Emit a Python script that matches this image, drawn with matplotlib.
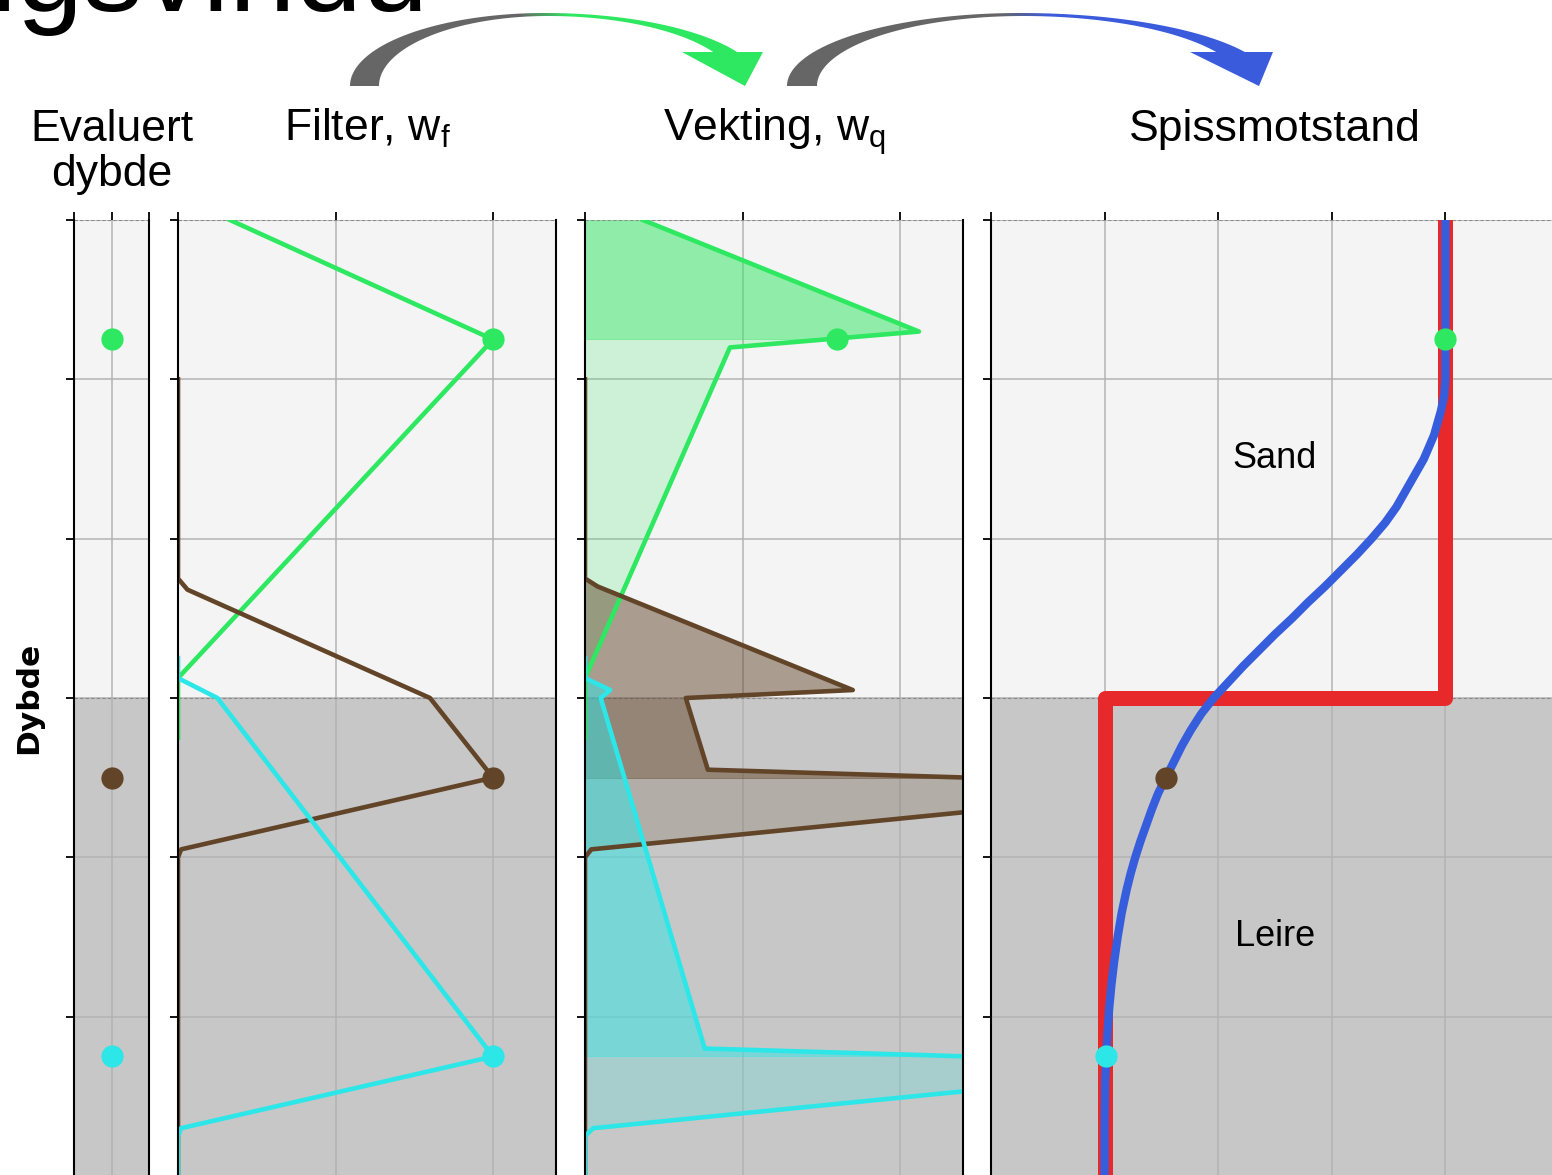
import numpy as np
import matplotlib.pyplot as plt
from matplotlib.patches import Polygon, Rectangle
from matplotlib.colors import to_rgb

plt.rcParams['font.family'] = ['Liberation Sans', 'DejaVu Sans']
plt.rcParams['mathtext.fontset'] = 'custom'
plt.rcParams['mathtext.rm'] = 'Liberation Sans'
plt.rcParams['mathtext.it'] = 'Liberation Sans:italic'

# --- data ---
lag_grense = 3.0          # sand over leire
dybde_max = 6.0
eval_dybde = [0.75, 3.5, 5.25]
farger = ['#2de860', '#624529', '#2de6e8']

# filter w_f for hvert evaluert punkt
wf1_z = [0.0, 0.75, 2.875, 3.25]
wf1 = [0.165, 1.0, 0.0, 0.0]
wf2_z = [1.0, 2.25, 2.32, 3.0, 3.5, 3.95, 4.0, 6.0]
wf2 = [0.0, 0.0, 0.03, 0.80, 1.0, 0.01, 0.0, 0.0]
wf3_z = [2.75, 2.875, 3.0, 5.25, 5.70, 5.75, 6.0]
wf3 = [0.0, 0.0, 0.125, 1.0, 0.01, 0.0, 0.0]
wf_ved_eval = [1.0, 1.0, 1.0]

# vekting w_q
wq1_z = [0.0, 0.70, 0.80, 2.875, 3.25]
wq1 = [0.184, 1.06, 0.46, 0.0, 0.0]
wq2_z = [1.0, 2.25, 2.30, 2.95, 3.0, 3.45, 3.55, 3.95, 4.0, 6.0]
wq2 = [0.0, 0.0, 0.04, 0.85, 0.32, 0.39, 2.05, 0.02, 0.0, 0.0]
wq3_z = [2.75, 2.875, 2.95, 3.0, 5.20, 5.30, 5.70, 5.75, 6.0]
wq3 = [0.0, 0.0, 0.08, 0.05, 0.38, 2.06, 0.026, 0.0, 0.0]
wq_ved_eval = [0.80, 1.22, 1.22]

# spissmotstand: lagdelt og glattet
qc_lag_z = [0.0, 3.0, 3.0, 6.0]
qc_lag = [4.0, 4.0, 1.0, 1.0]
qc_glatt_z = [0.0, 1.0, 1.1, 1.2, 1.35, 1.5, 1.65, 1.8, 1.9, 2.0, 2.1, 2.2, 2.3, 2.4,
              2.5, 2.6, 2.7, 2.8, 2.9, 3.0, 3.1, 3.2, 3.3, 3.4, 3.5, 3.6, 3.7, 3.8,
              3.9, 4.0, 4.1, 4.2, 4.35, 4.5, 4.65, 4.8, 4.95, 5.1, 5.4, 5.7, 6.0]
qc_glatt = [4.0, 4.0, 3.99, 3.96, 3.90, 3.81, 3.69, 3.57, 3.47, 3.35, 3.22, 3.08, 2.94, 2.79,
            2.65, 2.50, 2.36, 2.22, 2.09, 1.96, 1.85, 1.76, 1.68, 1.61, 1.54, 1.47, 1.415, 1.365,
            1.315, 1.27, 1.23, 1.195, 1.15, 1.115, 1.085, 1.06, 1.04, 1.025, 1.005, 1.0, 1.0]
qc_ved_eval = [4.0, 1.54, 1.01]

W, H = 1552, 1175
fig = plt.figure(figsize=(W / 100, H / 100), dpi=100)


def fx(px):
    return px / W


def fy(py):
    return 1 - py / H


def akse(x0, x1, y0=220, y1=1176):
    return fig.add_axes([fx(x0), fy(y1), (x1 - x0) / W, (y1 - y0) / H])


def stil(ax, xlim, xticks):
    ax.set_xlim(*xlim)
    ax.set_ylim(dybde_max, 0)
    ax.set_xticks(xticks)
    ax.set_yticks(np.arange(0, 7))
    ax.xaxis.tick_top()
    ax.tick_params(direction='out', length=5.8, width=1.3, labeltop=False,
                   labelleft=False, labelbottom=False)
    ax.grid(True, color='#b3b3b3', lw=1.1)
    ax.set_axisbelow(True)
    ax.axhspan(0, lag_grense, color='#f4f4f4', lw=0, zorder=0)
    ax.axhspan(lag_grense, dybde_max + 1, color='#c7c7c7', lw=0, zorder=0)
    for z in (0, lag_grense):
        ax.axhline(z, color='#8a8a8a', lw=0.8, ls=(0, (3, 2)), zorder=0.6)
    ax.spines['top'].set_visible(False)
    ax.spines['bottom'].set_visible(False)
    for s in ('left', 'right'):
        ax.spines[s].set_linewidth(1.5)
        ax.spines[s].set_zorder(6)


ax1 = akse(74, 149)
ax2 = akse(178, 556)
ax3 = akse(585, 963)
ax4 = akse(991, 1559)
stil(ax1, (-1, 1), [-1, 0, 1])
stil(ax2, (0, 1.2), [0, 0.5, 1.0])
stil(ax3, (0, 1.2), [0, 0.5, 1.0])
stil(ax4, (0, 5), [0, 1, 2, 3, 4])

# evaluerte dybder
for z, c in zip(eval_dybde, farger):
    ax1.plot(0, z, 'o', ms=16, mew=0, color=c, zorder=5)

# filter
filter_serier = [(wf1_z, wf1), (wf2_z, wf2), (wf3_z, wf3)]
for (z, w), c in zip(filter_serier, farger):
    ax2.plot(w, z, color=c, lw=3.3, zorder=3)
for z, w, c in zip(eval_dybde, wf_ved_eval, farger):
    ax2.plot(w, z, 'o', ms=16, mew=0, color=c, zorder=5)

# vekting: sterkere fyll over evaluert dybde, svakere under
x_min, x_max = ax3.get_xlim()
vekt_serier = [(wq1_z, wq1), (wq2_z, wq2), (wq3_z, wq3)]
for (z, w), ze, c in zip(vekt_serier, eval_dybde, farger):
    for topp, bunn, a in [(-1, ze, 0.5), (ze, dybde_max + 1, 0.2)]:
        f = ax3.fill_betweenx(z, 0, w, color=c, alpha=a, lw=0, zorder=2)
        f.set_clip_path(Rectangle((x_min, topp), x_max - x_min, bunn - topp,
                                  transform=ax3.transData))
for (z, w), c in zip(vekt_serier, farger):
    ax3.plot(w, z, color=c, lw=3.3, zorder=3)
for z, w, c in zip(eval_dybde, wq_ved_eval, farger):
    if w <= x_max:
        ax3.plot(w, z, 'o', ms=16, mew=0, color=c, zorder=5)

# spissmotstand
ax4.plot(qc_lag, qc_lag_z, color='#e8292b', lw=10.8, solid_joinstyle='round', zorder=3)
ax4.plot(qc_glatt, qc_glatt_z, color='#365ddc', lw=6, solid_joinstyle='round', zorder=4)
for z, q, c in zip(eval_dybde, qc_ved_eval, farger):
    ax4.plot(q, z, 'o', ms=16, mew=0, color=c, zorder=5)
ax4.text(2.5, 1.5, 'Sand', fontsize=26, ha='center', va='center')
ax4.text(2.5, 4.5, 'Leire', fontsize=26, ha='center', va='center')

# titler
fig.text(fx(428), fy(11), 'Midlingsvindu', fontsize=86, ha='right', va='baseline')
fig.text(fx(112), fy(141), 'Evaluert', fontsize=32, ha='center', va='baseline')
fig.text(fx(112), fy(186), 'dybde', fontsize=32, ha='center', va='baseline')
fig.text(fx(367), fy(141), r'Filter, w$_\mathrm{f}$', fontsize=32, ha='center', va='baseline')
fig.text(fx(774), fy(141), r'Vekting, w$_\mathrm{q}$', fontsize=32, ha='center', va='baseline')
fig.text(fx(1275), fy(141), 'Spissmotstand', fontsize=32, ha='center', va='baseline')
fig.text(fx(29), fy(698), 'Dybde', rotation=90, ha='center', va='center',
         fontsize=22.5, fontweight='bold', family='DejaVu Sans')

# buede piler med fargeovergang, tegnet i pikselkoordinater
pil_ax = fig.add_axes([0, 0, 1, 1], zorder=10)
pil_ax.axis('off')
pil_ax.patch.set_alpha(0)


def bue(cx, cy, rx, ry, t0, t1, n=90):
    t = np.radians(np.linspace(t0, t1, n))
    return np.column_stack([cx + rx * np.cos(t), cy - ry * np.sin(t)])


def bue_pil(ax, cx_ytre, r_ytre, cx_indre, r_indre, hode, farge, g0, g1):
    ende_y = np.degrees(np.arcsin(34 / 73))
    ende_i = np.degrees(np.arcsin(34 / 70))
    ytre = np.vstack([bue(cx_ytre, 86, r_ytre[0], 73, 180, 90),
                      bue(cx_ytre, 86, r_ytre[1], 73, 90, ende_y)])
    indre = np.vstack([bue(cx_indre, 86, r_indre[1], 70, ende_i, 90),
                       bue(cx_indre, 86, r_indre[0], 70, 90, 180)])
    pts = np.vstack([ytre, hode, indre])
    form = Polygon(pts, closed=True, fc='none', ec='none')
    ax.add_patch(form)
    xs = np.linspace(pts[:, 0].min(), pts[:, 0].max(), 500)
    t = np.clip((xs - g0) / (g1 - g0), 0, 1)[:, None]
    rgb = (1 - t) * np.array(to_rgb('#666666')) + t * np.array(to_rgb(farge))
    img = ax.imshow(rgb[None, :, :], extent=[xs[0], xs[-1], pts[:, 1].max(), pts[:, 1].min()],
                    aspect='auto', interpolation='bilinear')
    img.set_clip_path(form)


bue_pil(pil_ax, 545, (195, 217), 548, (169, 189),
        [(763, 52), (745, 86), (682, 52)], '#2de860', 520, 570)
bue_pil(pil_ax, 1020, (233, 254), 1023, (206, 221),
        [(1273, 52), (1259, 86), (1190, 52)], '#3a5bdc', 1000, 1050)
pil_ax.set_xlim(0, W)
pil_ax.set_ylim(H, 0)

fig.savefig('out.png', dpi=100)
